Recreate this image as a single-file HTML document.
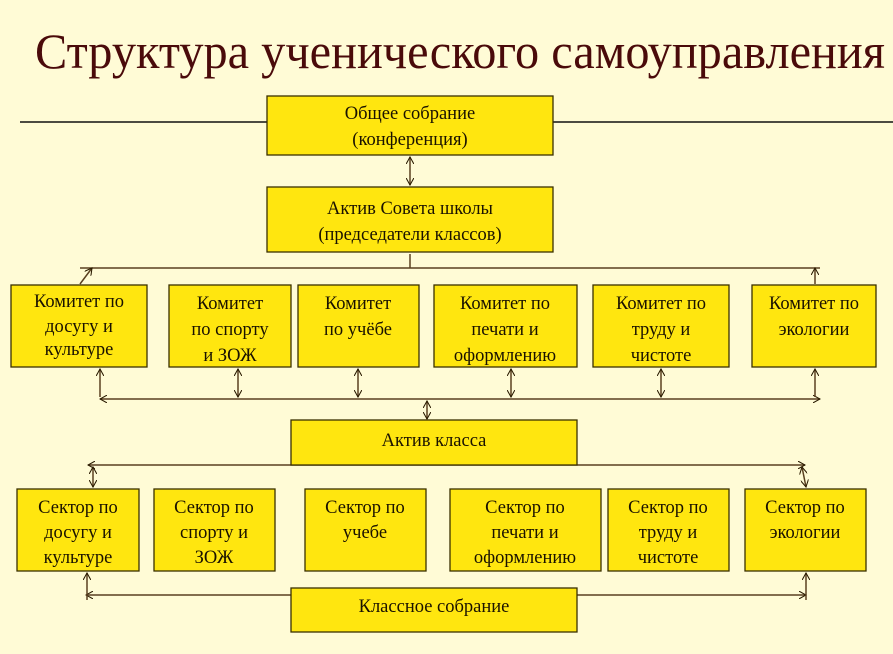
<!DOCTYPE html>
<html><head><meta charset="utf-8"><style>
body{margin:0;background:#fffbd6;}
svg{display:block}
text{font-family:"Liberation Serif",serif;fill:#1a1200;}
</style></head><body>
<svg width="893" height="654" viewBox="0 0 893 654" xmlns="http://www.w3.org/2000/svg">
<defs>
<marker id="a" viewBox="0 0 10 10" refX="9" refY="5" markerWidth="8" markerHeight="8" orient="auto-start-reverse" markerUnits="userSpaceOnUse">
<path d="M0,0 L9,5 L0,10" fill="none" stroke="#2a1a00" stroke-width="1.3"/></marker>
</defs>
<rect width="893" height="654" fill="#fffbd6"/>
<text x="35" y="68" font-size="50" textLength="850" lengthAdjust="spacingAndGlyphs" style="fill:#4a0a0a">Структура ученического самоуправления</text>
<g stroke="#5a4020" stroke-width="1.5" fill="none">
<line x1="20" y1="122" x2="893" y2="122" stroke="#111"/>
<line x1="410" y1="157" x2="410" y2="185" marker-start="url(#a)" marker-end="url(#a)"/>
<line x1="410" y1="254" x2="410" y2="268"/>
<line x1="80" y1="268" x2="820" y2="268"/>
<line x1="92" y1="268" x2="80" y2="284" marker-start="url(#a)"/>
<line x1="815" y1="268" x2="815" y2="284" marker-start="url(#a)"/>
<line x1="100" y1="399" x2="820" y2="399" marker-start="url(#a)" marker-end="url(#a)"/>
<line x1="100" y1="369" x2="100" y2="397" marker-start="url(#a)"/>
<line x1="238" y1="369" x2="238" y2="397" marker-start="url(#a)" marker-end="url(#a)"/>
<line x1="358" y1="369" x2="358" y2="397" marker-start="url(#a)" marker-end="url(#a)"/>
<line x1="511" y1="369" x2="511" y2="397" marker-start="url(#a)" marker-end="url(#a)"/>
<line x1="661" y1="369" x2="661" y2="397" marker-start="url(#a)" marker-end="url(#a)"/>
<line x1="815" y1="369" x2="815" y2="397" marker-start="url(#a)"/>
<line x1="427" y1="401" x2="427" y2="419" marker-start="url(#a)" marker-end="url(#a)"/>
<line x1="88" y1="465" x2="805" y2="465" marker-start="url(#a)" marker-end="url(#a)"/>
<line x1="93" y1="467" x2="93" y2="487" marker-start="url(#a)" marker-end="url(#a)"/>
<line x1="802" y1="467" x2="806" y2="487" marker-start="url(#a)" marker-end="url(#a)"/>
<line x1="86" y1="595" x2="806" y2="595" marker-start="url(#a)" marker-end="url(#a)"/>
<line x1="87" y1="573" x2="87" y2="600" marker-start="url(#a)"/>
<line x1="806" y1="573" x2="806" y2="600" marker-start="url(#a)"/>
</g>
<g fill="#ffe60f" stroke="#3a3000" stroke-width="1.3">
<rect x="267" y="96" width="286" height="59"/>
<rect x="267" y="187" width="286" height="65"/>
<rect x="11" y="285" width="136" height="82"/>
<rect x="169" y="285" width="122" height="82"/>
<rect x="298" y="285" width="121" height="82"/>
<rect x="434" y="285" width="143" height="82"/>
<rect x="593" y="285" width="136" height="82"/>
<rect x="752" y="285" width="124" height="82"/>
<rect x="291" y="420" width="286" height="45"/>
<rect x="17" y="489" width="122" height="82"/>
<rect x="154" y="489" width="121" height="82"/>
<rect x="305" y="489" width="121" height="82"/>
<rect x="450" y="489" width="151" height="82"/>
<rect x="608" y="489" width="121" height="82"/>
<rect x="745" y="489" width="121" height="82"/>
<rect x="291" y="588" width="286" height="44"/>
</g>
<g font-size="18.5" text-anchor="middle">
<text x="410" y="119">Общее собрание</text><text x="410" y="145">(конференция)</text>
<text x="410" y="214">Актив Совета школы</text><text x="410" y="240">(председатели классов)</text>
<text x="79" y="307">Комитет по</text><text x="79" y="332">досугу и</text><text x="79" y="355">культуре</text>
<text x="230" y="309">Комитет</text><text x="230" y="335">по спорту</text><text x="230" y="361">и ЗОЖ</text>
<text x="358" y="309">Комитет</text><text x="358" y="335">по учёбе</text>
<text x="505" y="309">Комитет по</text><text x="505" y="335">печати и</text><text x="505" y="361">оформлению</text>
<text x="661" y="309">Комитет по</text><text x="661" y="335">труду и</text><text x="661" y="361">чистоте</text>
<text x="814" y="309">Комитет по</text><text x="814" y="335">экологии</text>
<text x="434" y="446">Актив класса</text>
<text x="78" y="513">Сектор по</text><text x="78" y="538">досугу и</text><text x="78" y="563">культуре</text>
<text x="214" y="513">Сектор по</text><text x="214" y="538">спорту и</text><text x="214" y="563">ЗОЖ</text>
<text x="365" y="513">Сектор по</text><text x="365" y="538">учебе</text>
<text x="525" y="513">Сектор по</text><text x="525" y="538">печати и</text><text x="525" y="563">оформлению</text>
<text x="668" y="513">Сектор по</text><text x="668" y="538">труду и</text><text x="668" y="563">чистоте</text>
<text x="805" y="513">Сектор по</text><text x="805" y="538">экологии</text>
<text x="434" y="612">Классное собрание</text>
</g>
</svg>
</body></html>
